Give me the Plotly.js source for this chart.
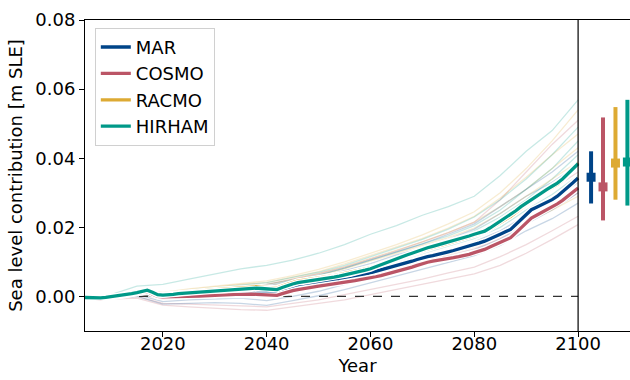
<!DOCTYPE html>
<html>
<head>
<meta charset="utf-8">
<script src="https://cdn.plot.ly/plotly-3.0.1.min.js"></script>
<style>html,body{margin:0;padding:0;background:#fff;}#chart{width:630px;height:380px;}</style>
</head>
<body>
<div id="chart"></div>
<script>
// ---------- DATA ----------
const models = ['MAR', 'COSMO', 'RACMO', 'HIRHAM'];
const modelColors = ['#004488', '#BB5566', '#DDAA33', '#009988'];

const yearStart = 2005, yearEnd = 2100;

const marMean = [-0.0004,-0.0005,-0.0005,-0.0005,-0.0004,-0.0002,-0.0001,0.0001,0.0004,0.0007,
  0.0010,0.0013,0.0015,0.0009,0.0002,0.0001,0.0002,0.0003,0.0004,0.0005,
  0.0006,0.0007,0.0008,0.0008,0.0009,0.0009,0.0010,0.0010,0.0011,0.0012,
  0.0012,0.0013,0.0014,0.0014,0.0013,0.0012,0.0011,0.0010,0.0016,0.0022,
  0.0027,0.0030,0.0032,0.0034,0.0036,0.0038,0.0040,0.0042,0.0044,0.0046,
  0.0049,0.0052,0.0056,0.0060,0.0064,0.0068,0.0072,0.0076,0.0080,0.0084,
  0.0088,0.0092,0.0097,0.0102,0.0107,0.0112,0.0115,0.0118,0.0121,0.0125,
  0.0129,0.0133,0.0137,0.0141,0.0146,0.0151,0.0155,0.0160,0.0166,0.0172,
  0.0180,0.0187,0.0194,0.0208,0.0222,0.0237,0.0251,0.0258,0.0265,0.0272,
  0.0280,0.0290,0.0302,0.0315,0.0329,0.0343];

const cosmoMean = [-0.0004,-0.0005,-0.0006,-0.0006,-0.0005,-0.0003,-0.0001,0.0001,0.0004,0.0007,
  0.0010,0.0013,0.0014,0.0007,0.0000,-0.0001,-0.0001,0.0000,0.0000,0.0000,
  0.0000,0.0000,0.0001,0.0002,0.0003,0.0003,0.0004,0.0004,0.0005,0.0006,
  0.0006,0.0007,0.0007,0.0006,0.0005,0.0004,0.0003,0.0003,0.0008,0.0013,
  0.0017,0.0020,0.0023,0.0026,0.0028,0.0030,0.0032,0.0034,0.0037,0.0039,
  0.0041,0.0043,0.0046,0.0049,0.0051,0.0054,0.0057,0.0060,0.0064,0.0068,
  0.0072,0.0075,0.0080,0.0085,0.0090,0.0095,0.0099,0.0102,0.0104,0.0106,
  0.0109,0.0112,0.0115,0.0118,0.0122,0.0127,0.0131,0.0136,0.0143,0.0150,
  0.0157,0.0164,0.0170,0.0184,0.0198,0.0213,0.0227,0.0235,0.0243,0.0251,
  0.0260,0.0268,0.0278,0.0290,0.0302,0.0314];

const racmoMean = [-0.0003,-0.0003,-0.0003,-0.0003,-0.0002,0.0000,0.0001,0.0003,0.0006,0.0009,
  0.0012,0.0016,0.0019,0.0013,0.0006,0.0005,0.0005,0.0007,0.0009,0.0011,
  0.0013,0.0014,0.0015,0.0017,0.0018,0.0019,0.0020,0.0021,0.0023,0.0025,
  0.0026,0.0027,0.0028,0.0028,0.0027,0.0026,0.0025,0.0024,0.0030,0.0036,
  0.0040,0.0044,0.0046,0.0048,0.0050,0.0053,0.0055,0.0058,0.0060,0.0063,
  0.0066,0.0069,0.0072,0.0075,0.0079,0.0083,0.0088,0.0094,0.0099,0.0105,
  0.0110,0.0114,0.0118,0.0123,0.0128,0.0133,0.0138,0.0142,0.0146,0.0150,
  0.0154,0.0158,0.0163,0.0167,0.0172,0.0177,0.0182,0.0187,0.0195,0.0204,
  0.0214,0.0223,0.0232,0.0243,0.0255,0.0266,0.0276,0.0288,0.0298,0.0307,
  0.0315,0.0325,0.0337,0.0352,0.0368,0.0386];

const hirhamMean = [-0.0003,-0.0004,-0.0004,-0.0004,-0.0003,-0.0001,0.0000,0.0002,0.0005,0.0008,
  0.0011,0.0015,0.0018,0.0012,0.0005,0.0004,0.0004,0.0006,0.0008,0.0009,
  0.0011,0.0012,0.0013,0.0014,0.0015,0.0016,0.0017,0.0018,0.0019,0.0021,
  0.0022,0.0023,0.0023,0.0024,0.0023,0.0022,0.0021,0.0020,0.0026,0.0032,
  0.0036,0.0040,0.0042,0.0044,0.0046,0.0049,0.0051,0.0054,0.0056,0.0059,
  0.0062,0.0065,0.0068,0.0072,0.0076,0.0080,0.0086,0.0092,0.0098,0.0104,
  0.0110,0.0115,0.0120,0.0125,0.0131,0.0136,0.0141,0.0145,0.0149,0.0153,
  0.0157,0.0162,0.0166,0.0170,0.0175,0.0180,0.0184,0.0189,0.0198,0.0208,
  0.0218,0.0228,0.0237,0.0248,0.0260,0.0270,0.0280,0.0292,0.0302,0.0310,
  0.0319,0.0328,0.0340,0.0355,0.0370,0.0384];

// individual ensemble members (every 5 years)
const memberYears = [2005,2010,2015,2020,2025,2030,2035,2040,2045,2050,2055,2060,2065,2070,2075,2080,2085,2090,2095,2100];

const marMembers = [
  [0,-0.0005,0.0005,-0.0015,-0.0010,-0.0008,-0.0005,-0.0012,0.0000,0.0015,0.0035,0.0055,0.0075,0.0095,0.0115,0.0135,0.0165,0.0210,0.0250,0.0300],
  [0,-0.0003,0.0012,0.0004,0.0012,0.0018,0.0022,0.0024,0.0040,0.0055,0.0075,0.0095,0.0120,0.0140,0.0165,0.0195,0.0240,0.0290,0.0330,0.0380],
  [0,-0.0006,0.0000,-0.0022,-0.0020,-0.0018,-0.0020,-0.0026,-0.0012,0.0002,0.0020,0.0040,0.0060,0.0078,0.0098,0.0118,0.0148,0.0190,0.0225,0.0270],
  [0,-0.0002,0.0014,0.0006,0.0016,0.0022,0.0028,0.0030,0.0046,0.0062,0.0082,0.0105,0.0130,0.0152,0.0180,0.0210,0.0260,0.0310,0.0360,0.0420],
  [0,-0.0004,0.0008,-0.0005,0.0003,0.0006,0.0010,0.0005,0.0020,0.0034,0.0052,0.0072,0.0094,0.0114,0.0135,0.0158,0.0190,0.0235,0.0280,0.0330]
];
const cosmoMembers = [
  [0,-0.0008,-0.0005,-0.0025,-0.0030,-0.0035,-0.0038,-0.0040,-0.0030,-0.0022,-0.0010,0.0005,0.0020,0.0035,0.0050,0.0065,0.0090,0.0125,0.0165,0.0208],
  [0,-0.0006,0.0000,-0.0020,-0.0022,-0.0025,-0.0028,-0.0030,-0.0020,-0.0010,0.0005,0.0020,0.0035,0.0050,0.0068,0.0085,0.0115,0.0150,0.0190,0.0232],
  [0,-0.0002,0.0014,0.0008,0.0016,0.0022,0.0030,0.0035,0.0050,0.0066,0.0085,0.0108,0.0132,0.0158,0.0185,0.0215,0.0280,0.0360,0.0440,0.0510],
  [0,-0.0005,0.0008,-0.0008,-0.0002,0.0000,0.0003,-0.0002,0.0012,0.0025,0.0042,0.0060,0.0080,0.0098,0.0118,0.0138,0.0168,0.0215,0.0255,0.0300],
  [0,-0.0004,0.0010,0.0000,0.0008,0.0012,0.0016,0.0015,0.0030,0.0045,0.0065,0.0085,0.0108,0.0128,0.0152,0.0178,0.0220,0.0270,0.0310,0.0360]
];
const racmoMembers = [
  [0,0.0000,0.0018,0.0012,0.0022,0.0030,0.0038,0.0045,0.0060,0.0078,0.0100,0.0125,0.0150,0.0178,0.0210,0.0245,0.0300,0.0370,0.0450,0.0540],
  [0,-0.0002,0.0014,0.0008,0.0016,0.0024,0.0030,0.0034,0.0050,0.0066,0.0086,0.0110,0.0134,0.0158,0.0185,0.0215,0.0260,0.0310,0.0370,0.0430],
  [0,-0.0004,0.0008,-0.0004,0.0002,0.0006,0.0008,0.0004,0.0018,0.0030,0.0048,0.0066,0.0086,0.0104,0.0124,0.0144,0.0172,0.0215,0.0250,0.0290],
  [0,-0.0003,0.0012,0.0005,0.0013,0.0020,0.0026,0.0028,0.0044,0.0060,0.0080,0.0102,0.0125,0.0146,0.0170,0.0198,0.0240,0.0290,0.0340,0.0390],
  [0,-0.0001,0.0016,0.0010,0.0020,0.0028,0.0035,0.0040,0.0056,0.0072,0.0094,0.0118,0.0142,0.0168,0.0198,0.0232,0.0285,0.0345,0.0410,0.0470]
];
const hirhamMembers = [
  [0,0.0005,0.0030,0.0035,0.0050,0.0065,0.0080,0.0090,0.0105,0.0125,0.0150,0.0180,0.0205,0.0235,0.0260,0.0290,0.0350,0.0420,0.0480,0.0569],
  [0,-0.0002,0.0012,0.0005,0.0015,0.0020,0.0028,0.0035,0.0048,0.0062,0.0082,0.0105,0.0128,0.0150,0.0175,0.0205,0.0250,0.0310,0.0370,0.0450],
  [0,-0.0003,0.0010,0.0003,0.0010,0.0015,0.0020,0.0025,0.0038,0.0050,0.0068,0.0090,0.0115,0.0138,0.0160,0.0190,0.0230,0.0280,0.0340,0.0410],
  [0,-0.0004,0.0008,-0.0002,0.0004,0.0008,0.0012,0.0012,0.0028,0.0042,0.0060,0.0080,0.0102,0.0122,0.0145,0.0168,0.0200,0.0250,0.0295,0.0350],
  [0,-0.0001,0.0015,0.0008,0.0018,0.0025,0.0033,0.0040,0.0055,0.0070,0.0090,0.0115,0.0140,0.0165,0.0195,0.0230,0.0280,0.0340,0.0410,0.0490]
];

// 2100 spread (median and range) per model
const rangeX = [2102.5, 2104.8, 2107.2, 2109.5];
const rangeMedian = [0.0345, 0.0317, 0.0386, 0.0389];
const rangeMin = [0.0269, 0.0220, 0.0280, 0.0263];
const rangeMax = [0.0420, 0.0518, 0.0548, 0.0569];

const refLineX = [2005, 2100];
const refLineY = [0, 0];

const xTicks = [2020, 2040, 2060, 2080, 2100];
const yTicks = [0.00, 0.02, 0.04, 0.06, 0.08];

// ---------- BUILD ----------
const years = [];
for (let y = yearStart; y <= yearEnd; y++) years.push(y);

const means = [marMean, cosmoMean, racmoMean, hirhamMean];
const members = [marMembers, cosmoMembers, racmoMembers, hirhamMembers];

function rgba(hex, a) {
  const r = parseInt(hex.slice(1,3),16), g = parseInt(hex.slice(3,5),16), b = parseInt(hex.slice(5,7),16);
  return `rgba(${r},${g},${b},${a})`;
}

const traces = [];
for (let k = 0; k < 5; k++) {
  for (let m = 0; m < 4; m++) {
    traces.push({
      x: memberYears, y: members[m][k], type: 'scatter', mode: 'lines',
      line: {color: rgba(modelColors[m], 0.22), width: 1.3},
      showlegend: false, hoverinfo: 'skip'
    });
  }
}
traces.push({
  x: refLineX, y: refLineY, type: 'scatter', mode: 'lines',
  line: {color: '#333333', width: 1.3, dash: 'dash'},
  showlegend: false, hoverinfo: 'skip'
});
for (let m = 0; m < 4; m++) {
  traces.push({
    x: years, y: means[m], type: 'scatter', mode: 'lines',
    line: {color: 'white', width: 6}, showlegend: false, hoverinfo: 'skip'
  });
  traces.push({
    x: years, y: means[m], type: 'scatter', mode: 'lines', name: models[m],
    line: {color: modelColors[m], width: 3.3}
  });
}
for (let m = 0; m < 4; m++) {
  traces.push({
    x: [rangeX[m]], y: [rangeMedian[m]], type: 'scatter', mode: 'markers',
    marker: {color: modelColors[m], symbol: 'square', size: 9},
    error_y: {type: 'data', symmetric: false,
      array: [rangeMax[m] - rangeMedian[m]], arrayminus: [rangeMedian[m] - rangeMin[m]],
      color: modelColors[m], thickness: 4, width: 0},
    showlegend: false, hoverinfo: 'skip', cliponaxis: false
  });
}

const font = {family: 'DejaVu Sans, sans-serif', size: 18, color: '#000'};

const layout = {
  width: 630, height: 380,
  margin: {l: 85, r: 0, t: 20, b: 49},
  paper_bgcolor: '#fff', plot_bgcolor: '#fff',
  font: font,
  showlegend: true,
  legend: {
    x: 0.018, y: 0.975, xanchor: 'left', yanchor: 'top',
    bgcolor: 'rgba(255,255,255,0.8)', bordercolor: '#d0d0d0', borderwidth: 1,
    font: {family: 'DejaVu Sans, sans-serif', size: 18, color: '#000'},
    tracegroupgap: 0
  },
  xaxis: {
    range: [2005, 2110], tickvals: xTicks, ticktext: xTicks.map(String),
    showgrid: false, zeroline: false, showline: true, linecolor: '#000', linewidth: 1,
    mirror: true, ticks: 'outside', ticklen: 5, tickcolor: '#000',
    ticklabelstandoff: -9,
    title: {text: 'Year', font: font, standoff: 6}
  },
  yaxis: {
    range: [-0.01, 0.08], tickvals: yTicks, ticktext: yTicks.map(v => v.toFixed(2)),
    showgrid: false, zeroline: false, showline: true, linecolor: '#000', linewidth: 1,
    ticks: 'outside', ticklen: 5, tickcolor: '#000',
    title: {text: 'Sea level contribution [m SLE]', font: font, standoff: 8}
  },
  shapes: [{
    type: 'line', xref: 'x', yref: 'paper', x0: yearEnd, x1: yearEnd, y0: 0, y1: 1,
    line: {color: '#000', width: 1.2}
  }]
};

Plotly.newPlot('chart', traces, layout, {displayModeBar: false, staticPlot: true});
</script>
</body>
</html>
